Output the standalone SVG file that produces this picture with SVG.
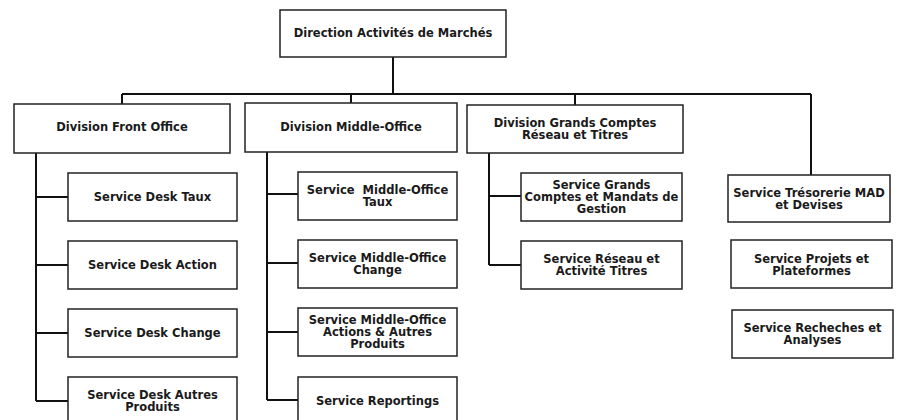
<svg xmlns="http://www.w3.org/2000/svg" width="899" height="420" viewBox="0 0 899 420">
<style>
.box{fill:#fff;stroke:#222;stroke-width:1.5}
.t{font-family:"DejaVu Sans","Liberation Sans",sans-serif;font-weight:bold;font-size:11.5px;fill:#1a1a1a;text-anchor:middle}
.c{fill:none;stroke:#111;stroke-width:2}
</style>
<rect width="899" height="420" fill="#fff"/>
<g id="connectors" class="c">
<path d="M393 57V94M122 94H811M122 94V104M351 94V103M575 94V105M811 94V175"/>
<path d="M36 153V401M36 197H68M36 265H68M36 333H68M36 401H68"/>
<path d="M267 152V400M267 194H298M267 263H298M267 332H298M267 400H298"/>
<path d="M489 153V265M489 196H521M489 265H521"/>
</g>
<g id="direction"><rect class="box" x="280" y="10" width="226" height="47"/><text class="t" x="393" y="37">Direction Activités de Marchés</text></g>
<g id="div-front"><rect class="box" x="14" y="104" width="216" height="49"/><text class="t" x="122" y="131">Division Front Office</text></g>
<g id="div-middle"><rect class="box" x="245" y="103" width="212" height="49"/><text class="t" x="351" y="131">Division Middle-Office</text></g>
<g id="div-grands"><rect class="box" x="467" y="105" width="216" height="48"/><text class="t" x="575" y="127">Division Grands Comptes</text><text class="t" x="575" y="139">Réseau et Titres</text></g>
<g id="desk-taux"><rect class="box" x="68" y="173" width="169" height="48"/><text class="t" x="152.5" y="201">Service Desk Taux</text></g>
<g id="desk-action"><rect class="box" x="68" y="241" width="169" height="48"/><text class="t" x="152.5" y="269">Service Desk Action</text></g>
<g id="desk-change"><rect class="box" x="68" y="309" width="169" height="48"/><text class="t" x="152.5" y="337">Service Desk Change</text></g>
<g id="desk-autres"><rect class="box" x="68" y="377" width="169" height="50"/><text class="t" x="152.5" y="399">Service Desk Autres</text><text class="t" x="152.5" y="411">Produits</text></g>
<g id="mo-taux"><rect class="box" x="298" y="172" width="159" height="48"/><text class="t" x="377.5" y="194" style="white-space:pre">Service  Middle-Office</text><text class="t" x="377.5" y="206">Taux</text></g>
<g id="mo-change"><rect class="box" x="298" y="240" width="159" height="48"/><text class="t" x="377.5" y="262">Service Middle-Office</text><text class="t" x="377.5" y="274">Change</text></g>
<g id="mo-actions"><rect class="box" x="298" y="308" width="159" height="48"/><text class="t" x="377.5" y="324">Service Middle-Office</text><text class="t" x="377.5" y="336">Actions &amp; Autres</text><text class="t" x="377.5" y="348">Produits</text></g>
<g id="mo-reportings"><rect class="box" x="298" y="377" width="159" height="50"/><text class="t" x="377.5" y="405">Service Reportings</text></g>
<g id="gc-comptes"><rect class="box" x="521" y="173" width="161" height="48"/><text class="t" x="601.5" y="189">Service Grands</text><text class="t" x="601.5" y="201">Comptes et Mandats de</text><text class="t" x="601.5" y="213">Gestion</text></g>
<g id="gc-reseau"><rect class="box" x="521" y="241" width="161" height="48"/><text class="t" x="601.5" y="263">Service Réseau et</text><text class="t" x="601.5" y="275">Activité Titres</text></g>
<g id="tresorerie"><rect class="box" x="728" y="175" width="162" height="47"/><text class="t" x="809" y="197">Service Trésorerie MAD</text><text class="t" x="809" y="209">et Devises</text></g>
<g id="projets"><rect class="box" x="731" y="240" width="161" height="48"/><text class="t" x="811.5" y="263">Service Projets et</text><text class="t" x="811.5" y="275">Plateformes</text></g>
<g id="recherches"><rect class="box" x="732" y="310" width="161" height="48"/><text class="t" x="812.5" y="332">Service Recheches et</text><text class="t" x="812.5" y="344">Analyses</text></g>
</svg>
